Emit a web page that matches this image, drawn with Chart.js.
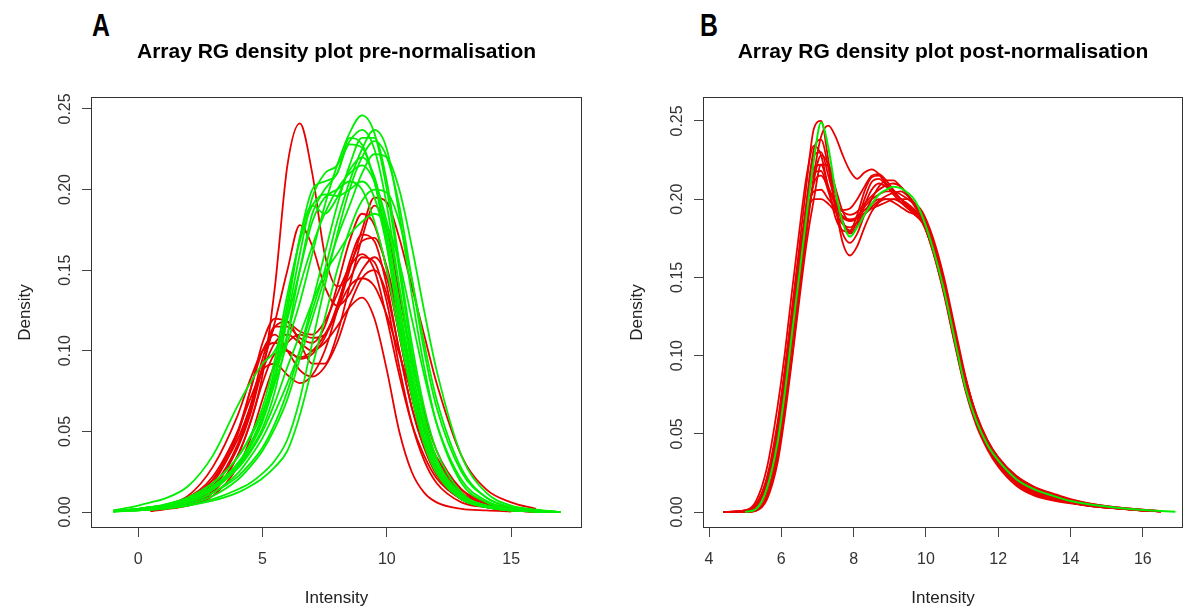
<!DOCTYPE html>
<html>
<head>
<meta charset="utf-8">
<script src="https://cdn.jsdelivr.net/npm/chart.js@4.4.0/dist/chart.umd.min.js"></script>
<style>
  body { margin: 0; background: #fff; width: 1186px; height: 609px; overflow: hidden; position: relative; }
  canvas { position: absolute; top: 0; }
  .tag { position: absolute; top: 10px; font: bold 31px "Liberation Sans", Arial, sans-serif; line-height: 1;
         transform: scaleX(0.8); transform-origin: left top; color: #000; }
</style>
</head>
<body>
<div class="tag" style="left:92px">A</div>
<div class="tag" style="left:700px">B</div>
<canvas id="chartA" width="593" height="609" style="left:0"></canvas>
<canvas id="chartB" width="574" height="609" style="left:612px"></canvas>

<script>
// ---- panel A: pre-normalisation ----
const xA = [-1, 0, 0.5, 1, 2, 3, 4, 4.5, 5, 5.5, 6, 6.5, 7, 7.5, 8, 8.5, 9, 9.5, 10, 10.5, 11, 11.5, 12, 13, 14, 15, 16, 17];

const redA = [
  [null,null,.001,.002,.005,.012,.035,.055,.085,.14,.215,.241,.21,.16,.14,.145,.158,.155,.13,.09,.055,.032,.018,.006,.003,.001,.0003,null],
  [null,null,.001,.002,.006,.015,.04,.06,.09,.118,.15,.178,.165,.14,.128,.135,.15,.158,.145,.11,.072,.042,.024,.008,.003,.001,.0003,null],
  [null,null,.001,.003,.008,.02,.05,.075,.1,.11,.1,.088,.084,.09,.105,.128,.145,.15,.135,.1,.065,.04,.024,.009,.004,.0015,.0005,null],
  [null,null,.0008,.002,.006,.015,.04,.062,.09,.115,.118,.105,.092,.092,.11,.14,.17,.19,.175,.135,.095,.062,.038,.014,.005,.002,.0006,null],
  [null,null,.001,.003,.009,.022,.05,.07,.088,.092,.085,.08,.085,.1,.125,.155,.172,.168,.14,.1,.065,.04,.023,.008,.003,.001,.0003,null],
  [null,null,.0005,.0015,.004,.01,.028,.045,.07,.092,.105,.11,.108,.11,.125,.15,.175,.195,.192,.17,.14,.11,.08,.035,.014,.006,.002,null],
  [null,null,.001,.003,.008,.02,.045,.065,.088,.105,.11,.105,.1,.105,.115,.127,.133,.12,.088,.05,.025,.012,.006,.002,.001,.0003,null,null],
  [null,null,.001,.002,.007,.018,.048,.075,.105,.12,.118,.112,.11,.118,.135,.152,.16,.15,.12,.085,.055,.035,.021,.008,.003,.001,.0003,null],
  [null,null,.0015,.004,.01,.028,.06,.082,.1,.105,.1,.096,.1,.11,.125,.14,.145,.14,.122,.098,.074,.052,.034,.014,.006,.0025,.0008,null],
  [null,null,.0007,.002,.005,.013,.035,.055,.08,.098,.1,.095,.098,.108,.128,.152,.168,.17,.152,.118,.082,.054,.033,.012,.005,.002,.0005,null],
  [null,null,.0008,.002,.006,.016,.042,.065,.095,.115,.115,.108,.105,.115,.14,.168,.185,.178,.15,.11,.072,.045,.027,.01,.004,.0015,.0004,null]
];

const greenA = [
  [.001,.004,.006,.008,.016,.035,.066,.08,.092,.1,.12,.15,.18,.195,.2,.205,.2,.18,.15,.11,.075,.045,.027,.01,.004,.002,.001,0],
  [.0005,.002,.003,.004,.008,.015,.03,.042,.058,.08,.105,.13,.16,.19,.215,.235,.246,.235,.2,.15,.1,.06,.033,.01,.004,.002,.0005,0],
  [.0005,.0015,.002,.003,.006,.012,.024,.034,.046,.062,.08,.1,.125,.15,.18,.205,.225,.237,.225,.185,.135,.09,.055,.018,.006,.002,.0007,0],
  [.0007,.002,.003,.004,.008,.016,.03,.042,.06,.09,.13,.17,.2,.205,.21,.232,.228,.205,.165,.115,.072,.042,.024,.008,.003,.001,.0003,0],
  [.0007,.002,.003,.004,.008,.016,.03,.042,.058,.085,.125,.17,.19,.185,.195,.212,.22,.208,.175,.13,.085,.05,.029,.009,.003,.001,.0003,0],
  [.0003,.001,.0015,.002,.004,.008,.014,.018,.024,.032,.045,.07,.105,.14,.172,.2,.22,.23,.22,.19,.145,.1,.065,.025,.009,.003,.001,0],
  [.0003,.001,.0015,.002,.005,.01,.02,.028,.038,.052,.07,.095,.12,.145,.17,.19,.21,.222,.22,.2,.165,.125,.088,.035,.012,.004,.0015,0],
  [.0008,.002,.003,.0045,.009,.018,.034,.047,.065,.095,.135,.168,.19,.197,.196,.2,.205,.195,.165,.12,.078,.046,.026,.008,.003,.001,.0003,0],
  [.0005,.0015,.002,.003,.006,.012,.022,.03,.04,.055,.075,.1,.13,.16,.19,.215,.232,.232,.205,.155,.105,.065,.038,.012,.004,.0015,.0005,0],
  [.0006,.0015,.0025,.0035,.007,.014,.028,.038,.052,.075,.11,.15,.185,.2,.21,.228,.226,.205,.17,.125,.082,.05,.028,.009,.003,.001,.0003,0],
  [.0005,.0015,.002,.003,.007,.014,.027,.037,.05,.068,.09,.11,.13,.148,.16,.172,.18,.185,.178,.155,.12,.085,.055,.02,.007,.002,.0007,0],
  [.0008,.002,.003,.004,.009,.018,.034,.046,.062,.085,.11,.14,.165,.185,.2,.21,.215,.205,.18,.14,.095,.058,.033,.011,.004,.0015,.0005,0],
  [.0003,.001,.0015,.002,.004,.007,.012,.016,.021,.028,.038,.06,.09,.12,.15,.175,.193,.2,.198,.18,.145,.105,.07,.027,.009,.003,.001,0],
  [.0006,.0015,.0025,.0035,.007,.014,.028,.04,.056,.082,.12,.16,.195,.21,.215,.23,.237,.225,.19,.14,.09,.054,.03,.01,.0035,.0012,.0004,0]
];

// ---- panel B: post-normalisation ----
const xB = [4.4, 5.0, 5.3, 5.6, 5.9, 6.1, 6.3, 6.5, 6.7, 6.9, 7.1, 7.3, 7.5, 7.7, 7.9, 8.1, 8.3, 8.5, 8.7, 8.9, 9.1, 9.3, 9.5, 9.7, 9.9,
            10.2, 10.5, 10.8, 11.1, 11.4, 11.7, 12.0, 12.5, 13.0, 13.5, 14.0, 14.5, 15.0, 15.5, 16.0, 16.5, 16.9];

const redB = [
  [0,.0005,.004,.02,.055,.09,.13,.17,.21,.245,.25,.225,.195,.172,.164,.17,.182,.192,.198,.2,.2,.198,.196,.192,.187,.168,.142,.11,.08,.058,.042,.031,.018,.012,.009,.0065,.0045,.003,.002,.001,.0004,null],
  [0,0,.001,.01,.035,.065,.1,.14,.178,.215,.24,.247,.24,.228,.218,.213,.217,.219,.216,.21,.205,.2,.196,.192,.186,.166,.14,.108,.078,.057,.042,.031,.019,.012,.0085,.006,.004,.0028,.0018,.001,.0004,null],
  [0,.001,.005,.022,.058,.092,.13,.165,.19,.2,.2,.197,.192,.188,.186,.188,.193,.197,.2,.2,.198,.195,.192,.19,.186,.17,.145,.113,.083,.06,.044,.032,.019,.012,.0085,.006,.0042,.003,.002,.0011,.0004,null],
  [0,.0008,.004,.018,.052,.085,.122,.16,.198,.228,.23,.215,.198,.185,.18,.19,.205,.214,.215,.21,.205,.2,.196,.191,.186,.168,.143,.112,.082,.06,.045,.034,.022,.015,.011,.0075,.0052,.0036,.0024,.0014,.0006,null],
  [0,0,.002,.013,.042,.075,.112,.15,.185,.21,.215,.207,.198,.192,.19,.192,.197,.202,.206,.209,.21,.208,.203,.196,.19,.173,.148,.116,.085,.062,.046,.035,.023,.016,.0115,.008,.0055,.0038,.0025,.0015,.0006,null],
  [0,.0005,.003,.017,.05,.083,.12,.158,.198,.232,.238,.22,.195,.178,.172,.178,.19,.2,.208,.212,.212,.208,.202,.195,.187,.166,.139,.107,.077,.055,.04,.029,.017,.011,.008,.006,.004,.0028,.0018,.001,.0004,null],
  [0,.0008,.004,.02,.055,.088,.125,.162,.195,.217,.218,.205,.192,.184,.182,.185,.19,.195,.199,.202,.204,.205,.202,.197,.19,.172,.146,.114,.084,.06,.043,.031,.018,.0115,.0085,.006,.0042,.003,.002,.0011,.0004,null],
  [null,0,.001,.01,.038,.07,.108,.146,.182,.212,.228,.222,.203,.186,.178,.183,.196,.206,.21,.208,.204,.2,.197,.193,.188,.17,.144,.112,.081,.059,.044,.033,.021,.014,.01,.007,.0048,.0033,.0022,.0013,.0005,null],
  [0,.001,.005,.021,.056,.09,.127,.163,.19,.205,.206,.2,.195,.193,.194,.2,.208,.215,.216,.212,.206,.2,.195,.19,.185,.168,.142,.111,.081,.059,.043,.032,.02,.013,.0095,.0068,.0046,.0032,.002,.0012,.0005,null],
  [0,.0005,.003,.017,.05,.084,.122,.16,.196,.22,.222,.208,.196,.189,.187,.188,.191,.194,.196,.198,.2,.2,.2,.197,.192,.175,.15,.118,.086,.061,.043,.03,.017,.0105,.0075,.0055,.004,.0028,.0018,.001,.0004,null],
  [0,.001,.007,.028,.068,.102,.142,.18,.215,.234,.228,.207,.188,.18,.179,.186,.2,.211,.213,.209,.203,.198,.194,.19,.185,.167,.141,.109,.079,.057,.041,.03,.018,.0115,.0082,.006,.0042,.003,.002,.001,.0004,null],
  [null,0,.0008,.008,.032,.062,.098,.136,.172,.2,.222,.222,.207,.192,.186,.189,.195,.2,.203,.205,.205,.203,.2,.196,.19,.172,.147,.115,.085,.062,.046,.035,.023,.016,.012,.0082,.0056,.0038,.0025,.0015,.0006,null]
];

const greenB = [
  [null,0,.002,.015,.045,.077,.115,.152,.19,.225,.249,.233,.205,.185,.176,.182,.19,.197,.203,.206,.208,.207,.204,.199,.189,.168,.142,.11,.079,.058,.043,.033,.021,.0145,.0105,.007,.005,.0035,.0022,.0013,.0006,.0002]
];

// ---- axes ----
const yTicks = [0, 0.05, 0.10, 0.15, 0.20, 0.25];
const xTicksA = [0, 5, 10, 15];
const xTicksB = [4, 6, 8, 10, 12, 14, 16];

const RED = '#e80000';
const GREEN = '#00ee00';
const FONT = '"Liberation Sans", Arial, Helvetica, sans-serif';

Chart.defaults.font.family = FONT;

// plot frame around the chart area, like R's box()
const boxPlugin = {
  id: 'rbox',
  afterDraw(chart) {
    const { ctx, chartArea: a } = chart;
    ctx.save();
    ctx.strokeStyle = '#333';
    ctx.lineWidth = 1;
    ctx.strokeRect(Math.round(a.left) + 0.5, Math.round(a.top) + 0.5,
                   Math.round(a.right - a.left) - 1, Math.round(a.bottom - a.top) - 1);
    ctx.restore();
  }
};

function curve(xs, ys, color, order, width) {
  return {
    data: xs.map((x, i) => ({ x: x, y: ys[i] })),
    borderColor: color,
    borderWidth: width,
    pointRadius: 0,
    fill: false,
    spanGaps: false,
    cubicInterpolationMode: 'monotone',
    order: order
  };
}

function makePanel(id, cfg) {
  const datasets = [];
  cfg.red.forEach(c => datasets.push(curve(cfg.x, c, RED, 1, 1.8)));
  cfg.green.forEach(c => datasets.push(curve(cfg.x, c, GREEN, 0, cfg.greenWidth)));

  new Chart(document.getElementById(id), {
    type: 'line',
    data: { datasets },
    options: {
      responsive: false,
      animation: false,
      events: [],
      layout: { padding: { left: 0, right: cfg.padRight, top: 0, bottom: 0 } },
      plugins: {
        legend: { display: false },
        tooltip: { enabled: false },
        title: {
          display: true,
          text: cfg.title,
          fullSize: false,
          color: '#000',
          font: { size: 21, weight: 'bold' },
          padding: { top: 40, bottom: 31.8 }
        }
      },
      scales: {
        x: {
          type: 'linear',
          min: cfg.xMin,
          max: cfg.xMax,
          afterFit: s => { s.height = 81; },
          afterBuildTicks: s => { s.ticks = cfg.xTicks.map(v => ({ value: v })); },
          border: { display: false },
          grid: { drawOnChartArea: false, drawTicks: true, tickLength: 9, color: '#444' },
          ticks: { color: '#333', font: { size: 16 }, padding: 13, maxRotation: 0, autoSkip: false,
                   callback: v => String(v) },
          title: { display: true, text: 'Intensity', color: '#222', font: { size: 17 }, padding: { top: 0, bottom: 0 } }
        },
        y: {
          type: 'linear',
          min: cfg.yMin,
          max: cfg.yMax,
          afterFit: s => { s.width = 91; },
          afterBuildTicks: s => { s.ticks = yTicks.map(v => ({ value: v })); },
          border: { display: false },
          grid: { drawOnChartArea: false, drawTicks: true, tickLength: 9, color: '#444' },
          ticks: { color: '#333', font: { size: 16 }, padding: 1, minRotation: 90, maxRotation: 90,
                   crossAlign: 'center', autoSkip: false, callback: v => v.toFixed(2) },
          title: { display: true, text: 'Density', color: '#222', font: { size: 17 }, padding: { top: 15, bottom: 0 } }
        }
      }
    },
    plugins: [boxPlugin]
  });
}

makePanel('chartA', {
  title: 'Array RG density plot pre-normalisation',
  x: xA, red: redA, green: greenA, greenWidth: 1.8,
  xMin: -1.9, xMax: 17.85, yMin: -0.0099, yMax: 0.2574,
  xTicks: xTicksA, padRight: 11
});

makePanel('chartB', {
  title: 'Array RG density plot post-normalisation',
  x: xB, red: redB, green: greenB, greenWidth: 2,
  xMin: 3.834, xMax: 17.11, yMin: -0.0102, yMax: 0.2653,
  xTicks: xTicksB, padRight: 3
});
</script>
</body>
</html>
